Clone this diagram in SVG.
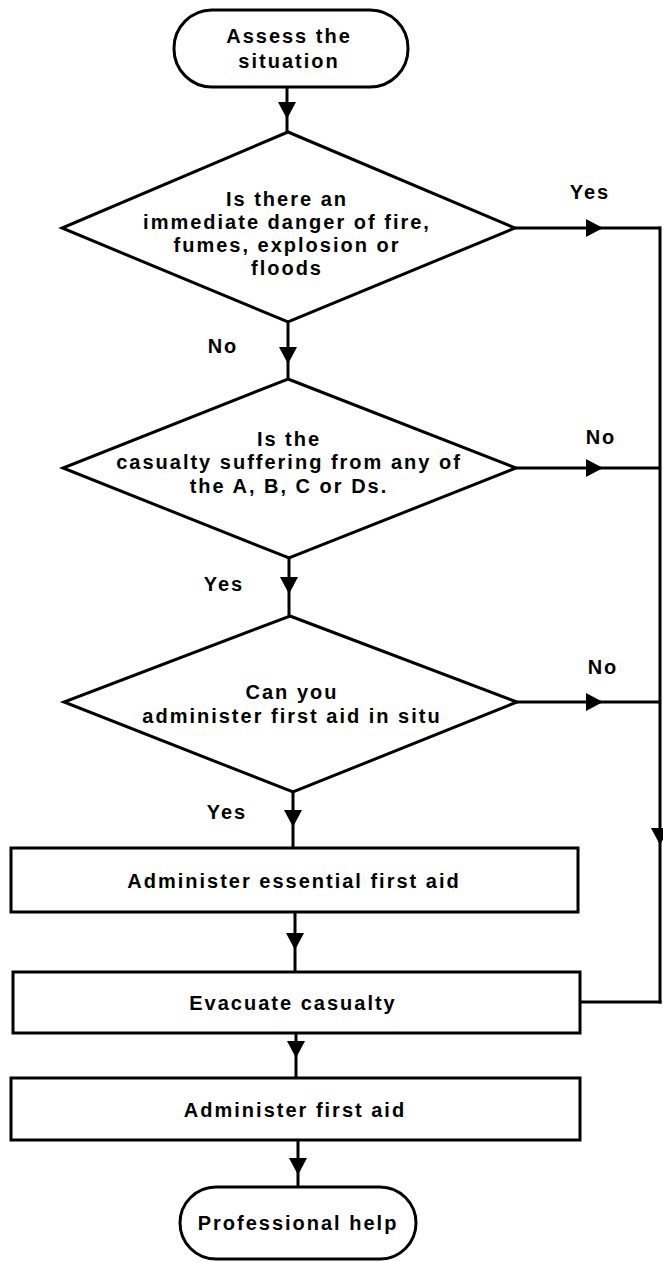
<svg xmlns="http://www.w3.org/2000/svg" xmlns:xlink="http://www.w3.org/1999/xlink" width="663" height="1262" viewBox="0 0 663 1262">
<style>
.shape{fill:#fff;stroke:#000;stroke-width:3;stroke-linejoin:miter}
.conn{fill:none;stroke:#000;stroke-width:3}
.head{fill:#000;stroke:none}
text{font-family:"Liberation Sans",Arial,Helvetica,sans-serif;font-weight:bold;font-size:20px;letter-spacing:2px;fill:#000;text-anchor:middle}
</style>
<defs>
<path id="ahd" d="M-9,-17 L9,-17 L0,0 Z"/>
</defs>
<rect width="663" height="1262" fill="#fff"/>
<g id="connectors">
<path class="conn" d="M287,87 L287,132"/>
<path class="conn" d="M288,322 L288,379"/>
<path class="conn" d="M289,558 L289,616"/>
<path class="conn" d="M293,792 L293,848"/>
<path class="conn" d="M295,912 L295,972"/>
<path class="conn" d="M296,1033 L296,1078"/>
<path class="conn" d="M298,1140 L298,1187"/>
<path class="conn" d="M515,228 L660,228"/>
<path class="conn" d="M516,468 L660,468"/>
<path class="conn" d="M517,702 L660,702"/>
<path class="conn" d="M660,226.5 L660,1003.5"/>
<path class="conn" d="M580,1002 L661.5,1002"/>
<use class="head" xlink:href="#ahd" transform="translate(287,119)"/>
<use class="head" xlink:href="#ahd" transform="translate(288,364)"/>
<use class="head" xlink:href="#ahd" transform="translate(289,594)"/>
<use class="head" xlink:href="#ahd" transform="translate(293,827)"/>
<use class="head" xlink:href="#ahd" transform="translate(295,950)"/>
<use class="head" xlink:href="#ahd" transform="translate(296,1058)"/>
<use class="head" xlink:href="#ahd" transform="translate(298,1175)"/>
<use class="head" xlink:href="#ahd" transform="translate(603,228) rotate(-90)"/>
<use class="head" xlink:href="#ahd" transform="translate(603,468) rotate(-90)"/>
<use class="head" xlink:href="#ahd" transform="translate(603,702) rotate(-90)"/>
<use class="head" xlink:href="#ahd" transform="translate(660,845)"/>
<text x="590" y="199">Yes</text>
<text x="601" y="444">No</text>
<text x="603" y="674">No</text>
<text x="223" y="353">No</text>
<text x="224" y="591">Yes</text>
<text x="227" y="819">Yes</text>
</g>
<g id="start">
<rect class="shape" x="174" y="10" width="234" height="77" rx="38" ry="38"/>
<text x="289" y="43">Assess the</text>
<text x="289" y="68">situation</text>
</g>
<g id="danger">
<polygon class="shape" points="288,132 515,228 288,322 62,228"/>
<text x="287" y="206">Is there an</text>
<text x="287" y="229">immediate danger of fire,</text>
<text x="287" y="252">fumes, explosion or</text>
<text x="287" y="275">floods</text>
</g>
<g id="abcd">
<polygon class="shape" points="288,379 516,468 289,558 63,468"/>
<text x="289" y="446">Is the</text>
<text x="289" y="469">casualty suffering from any of</text>
<text x="289" y="493">the A, B, C or Ds.</text>
</g>
<g id="insitu">
<polygon class="shape" points="290,616 517,702 293,792 64,702"/>
<text x="292" y="699">Can you</text>
<text x="292" y="723">administer first aid in situ</text>
</g>
<g id="essential">
<rect class="shape" x="11" y="848" width="567" height="64"/>
<text x="294" y="888">Administer essential first aid</text>
</g>
<g id="evacuate">
<rect class="shape" x="13" y="972" width="567" height="61"/>
<text x="293" y="1010">Evacuate casualty</text>
</g>
<g id="firstaid">
<rect class="shape" x="11" y="1078" width="569" height="62"/>
<text x="295" y="1117">Administer first aid</text>
</g>
<g id="professional">
<rect class="shape" x="180" y="1187" width="236" height="72" rx="36" ry="36"/>
<text x="298" y="1230">Professional help</text>
</g>
</svg>
